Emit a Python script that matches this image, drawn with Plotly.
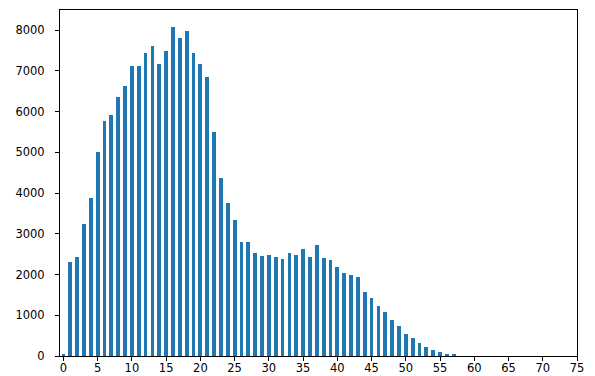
import plotly.graph_objects as go

categories = list(range(76))
counts = [50, 2320, 2420, 3230, 3870, 5000, 5780, 5910, 6350, 6640,
          7130, 7110, 7450, 7600, 7180, 7500, 8090, 7800, 7970, 7450,
          7180, 6860, 5510, 4380, 3750, 3350, 2790, 2790, 2520, 2450,
          2470, 2420, 2370, 2520, 2490, 2620, 2420, 2720, 2400, 2350,
          2180, 2050, 1980, 1930, 1560, 1420, 1220, 1075, 878, 735,
          540, 440, 320, 220, 150, 100, 50, 25, 0, 0,
          0, 0, 0, 0, 0, 0, 0, 0, 0, 0,
          0, 0, 0, 0, 0, 0]
x_ticks = list(range(0, 76, 5))
y_ticks = list(range(0, 8001, 1000))

fig = go.Figure(go.Bar(x=categories, y=counts, width=0.55,
                       marker=dict(color="#1f77b4", line=dict(width=0))))

axis_common = dict(showline=True, linecolor="black", linewidth=1, mirror=True,
                   ticks="outside", ticklen=4, tickcolor="black", tickwidth=1,
                   showgrid=False, zeroline=False, automargin=False,
                   tickfont=dict(family="DejaVu Sans", size=11.5, color="black"))
fig.update_xaxes(range=[-0.5, 75], tickvals=x_ticks, ticktext=[str(v) for v in x_ticks],
                 ticklabelstandoff=-3, **axis_common)
fig.update_yaxes(range=[0, 8495], tickvals=y_ticks, ticktext=[str(v) for v in y_ticks],
                 ticklabelstandoff=8, **axis_common)
fig.update_layout(width=595, height=376, margin=dict(l=52, r=26, t=2, b=28),
                  plot_bgcolor="white", paper_bgcolor="white", showlegend=False,
                  bargap=0)
fig.write_html("out.html")
